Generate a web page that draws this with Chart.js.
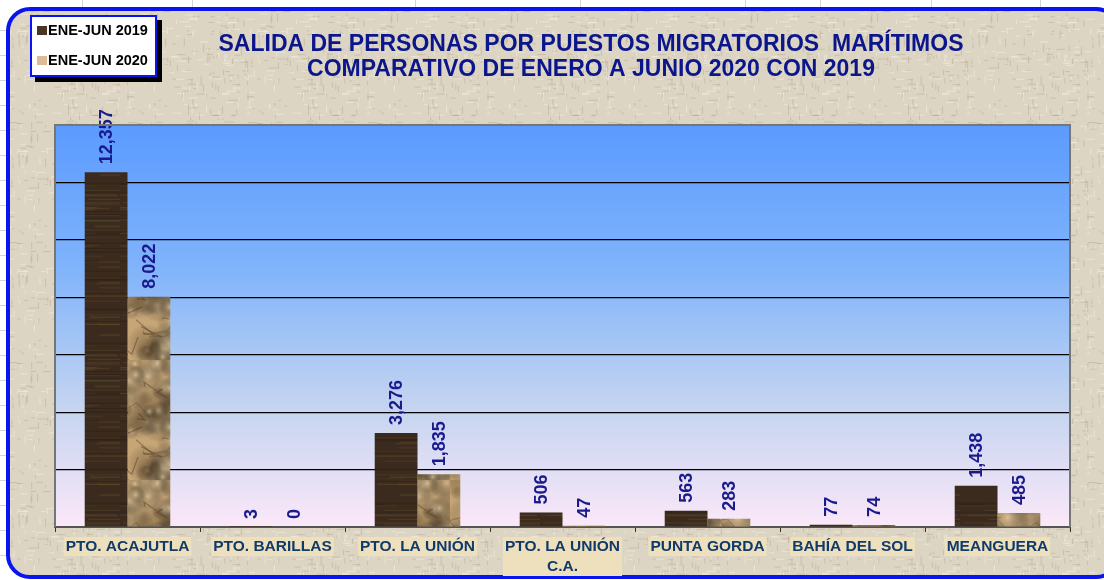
<!DOCTYPE html>
<html>
<head>
<meta charset="utf-8">
<script src="https://cdn.jsdelivr.net/npm/chart.js@4.4.1/dist/chart.umd.min.js"></script>
<style>
  html, body { margin: 0; padding: 0; background: #fff; }
  canvas { display: block; }
</style>
</head>
<body>
<canvas id="chart-canvas" width="1104" height="580"></canvas>
<script>
// datos de la gráfica
var puestos = ['PTO. ACAJUTLA', 'PTO. BARILLAS', 'PTO. LA UNIÓN', ['PTO. LA UNIÓN', 'C.A.'], 'PUNTA GORDA', 'BAHÍA DEL SOL', 'MEANGUERA'];
var series = ['ENE-JUN 2019', 'ENE-JUN 2020'];
var valores2019 = [12357, 3, 3276, 506, 563, 77, 1438];
var valores2020 = [8022, 0, 1835, 47, 283, 74, 485];
var titulo = ['SALIDA DE PERSONAS POR PUESTOS MIGRATORIOS  MARÍTIMOS', 'COMPARATIVO DE ENERO A JUNIO 2020 CON 2019'];

var FONT = '"Liberation Sans", Arial, sans-serif';

// generador pseudo-aleatorio fijo, solo para las texturas
function seeded(seed) {
    return function() {
        seed = (seed * 16807) % 2147483647;
        return (seed - 1) / 2147483646;
    };
}

// textura de madera (barras oscuras)
function woodPattern(ctx) {
    var c = document.createElement('canvas');
    c.width = 60; c.height = 160;
    var g = c.getContext('2d');
    var rnd = seeded(42);
    g.fillStyle = '#3b2b1e';
    g.fillRect(0, 0, c.width, c.height);
    for (var i = 0; i < 45; i++) {
        var y = rnd() * c.height;
        var l = 30 + rnd() * 60;
        g.fillStyle = 'rgba(' + (85 + rnd() * 40 | 0) + ',' + (65 + rnd() * 30 | 0) + ',' + (40 + rnd() * 20 | 0) + ',' + (0.15 + rnd() * 0.25) + ')';
        g.fillRect(rnd() * c.width - 20, y, l, 1 + rnd());
    }
    for (var j = 0; j < 20; j++) {
        g.fillStyle = 'rgba(25,15,8,0.25)';
        g.fillRect(0, rnd() * c.height, c.width, 1);
    }
    return ctx.createPattern(c, 'repeat');
}

// textura de papel arrugado (barras claras)
function paperPattern(ctx) {
    var c = document.createElement('canvas');
    c.width = 90; c.height = 120;
    var g = c.getContext('2d');
    var rnd = seeded(7);
    g.fillStyle = '#c6a576';
    g.fillRect(0, 0, c.width, c.height);
    for (var i = 0; i < 60; i++) {
        var x = rnd() * c.width, y = rnd() * c.height;
        var r = 6 + rnd() * 16;
        var gr = g.createRadialGradient(x, y, 0, x, y, r);
        var light = rnd() > 0.45;
        gr.addColorStop(0, light ? 'rgba(238,214,170,0.55)' : 'rgba(110,80,45,0.4)');
        gr.addColorStop(1, 'rgba(0,0,0,0)');
        g.fillStyle = gr;
        g.fillRect(x - r, y - r, r * 2, r * 2);
    }
    g.lineWidth = 1.2;
    for (var k = 0; k < 18; k++) {
        var sx = rnd() * c.width, sy = rnd() * c.height;
        g.strokeStyle = 'rgba(85,60,32,' + (0.25 + rnd() * 0.35) + ')';
        g.beginPath();
        g.moveTo(sx, sy);
        g.lineTo(sx + (rnd() - 0.3) * 25, sy + (rnd() - 0.5) * 18);
        g.lineTo(sx + (rnd() - 0.3) * 35, sy + (rnd() - 0.5) * 30);
        g.stroke();
    }
    return ctx.createPattern(c, 'repeat');
}

// textura de lino para el fondo
function linenPattern(ctx) {
    var c = document.createElement('canvas');
    c.width = 120; c.height = 120;
    var g = c.getContext('2d');
    var rnd = seeded(99);
    g.fillStyle = '#ddd5c3';
    g.fillRect(0, 0, c.width, c.height);
    for (var i = 0; i < 260; i++) {
        g.fillStyle = rnd() > 0.5 ? 'rgba(250,246,236,0.5)' : 'rgba(165,150,125,0.35)';
        if (rnd() > 0.5) g.fillRect(rnd() * c.width, rnd() * c.height, 1, 2 + rnd() * 8);
        else g.fillRect(rnd() * c.width, rnd() * c.height, 2 + rnd() * 8, 1);
    }
    return ctx.createPattern(c, 'repeat');
}

function roundRect(ctx, x, y, w, h, r) {
    ctx.beginPath();
    ctx.moveTo(x + r, y);
    ctx.lineTo(x + w - r, y);
    ctx.arcTo(x + w, y, x + w, y + r, r);
    ctx.lineTo(x + w, y + h - r);
    ctx.arcTo(x + w, y + h, x + w - r, y + h, r);
    ctx.lineTo(x + r, y + h);
    ctx.arcTo(x, y + h, x, y + h - r, r);
    ctx.lineTo(x, y + r);
    ctx.arcTo(x, y, x + r, y, r);
    ctx.closePath();
}

var canvas = document.getElementById('chart-canvas');
var ctx0 = canvas.getContext('2d');
var colores = [woodPattern(ctx0), paperPattern(ctx0)];
var swatches = ['#4a3626', '#dcbc96'];
var linen = linenPattern(ctx0);

var fondoPlugin = {
    id: 'fondo',
    beforeDraw: function(chart) {
        var ctx = chart.ctx, a = chart.chartArea;
        ctx.save();
        // hoja de cálculo detrás
        ctx.fillStyle = '#fff';
        ctx.fillRect(0, 0, chart.width, chart.height);
        ctx.strokeStyle = '#d4d4d4';
        ctx.lineWidth = 1;
        [82, 192, 415, 580, 745, 820, 931, 1040].forEach(function(x) {
            ctx.beginPath(); ctx.moveTo(x + 0.5, 0); ctx.lineTo(x + 0.5, 12); ctx.stroke();
        });
        for (var y = 30; y < chart.height; y += 25) {
            ctx.beginPath(); ctx.moveTo(0, y + 0.5); ctx.lineTo(8, y + 0.5); ctx.stroke();
        }
        // marco
        roundRect(ctx, 8, 9, 1110, 568, 22);
        ctx.fillStyle = linen;
        ctx.fill();
        ctx.lineWidth = 4;
        ctx.strokeStyle = '#0a14f0';
        ctx.stroke();
        // área de trazado
        var gr = ctx.createLinearGradient(0, a.top, 0, a.bottom);
        gr.addColorStop(0, '#5b9bff');
        gr.addColorStop(0.35, '#7fb3fb');
        gr.addColorStop(0.7, '#c4d4f0');
        gr.addColorStop(1, '#fbe8f8');
        ctx.fillStyle = gr;
        ctx.fillRect(a.left, a.top, a.right - a.left, a.bottom - a.top);
        ctx.restore();
    },
    afterDraw: function(chart) {
        var ctx = chart.ctx, a = chart.chartArea;
        ctx.save();
        // borde gris del área
        ctx.strokeStyle = '#767676';
        ctx.lineWidth = 2;
        ctx.beginPath();
        ctx.moveTo(a.left, a.bottom);
        ctx.lineTo(a.left, a.top);
        ctx.lineTo(a.right, a.top);
        ctx.lineTo(a.right, a.bottom);
        ctx.stroke();

        // etiquetas de categoría con fondo
        var xs = chart.scales.x;
        ctx.font = 'bold 15.5px ' + FONT;
        ctx.textAlign = 'center';
        ctx.textBaseline = 'middle';
        chart.data.labels.forEach(function(lab, i) {
            var lines = Array.isArray(lab) ? lab : [lab];
            var w = Math.max.apply(null, lines.map(function(t) { return ctx.measureText(t).width; }));
            var x = xs.getPixelForValue(i);
            ctx.fillStyle = '#eee0bd';
            ctx.fillRect(x - w / 2 - 2, 537, w + 4, lines.length * 20 - 1);
            ctx.fillStyle = '#0f3a6c';
            lines.forEach(function(t, k) { ctx.fillText(t, x, 547 + k * 20); });
        });

        // título
        ctx.fillStyle = '#0c168c';
        ctx.font = 'bold 23px ' + FONT;
        ctx.fillText(titulo[0], 591, 45);
        ctx.fillText(titulo[1], 591, 70);
        // leyenda
        ctx.fillStyle = '#000';
        ctx.fillRect(35, 20, 127, 62);
        ctx.fillStyle = '#fff';
        ctx.fillRect(30, 15, 127, 62);
        ctx.strokeStyle = '#0a14f0';
        ctx.lineWidth = 2;
        ctx.strokeRect(31, 16, 125, 60);
        ctx.textAlign = 'left';
        ctx.font = 'bold 14.5px ' + FONT;
        series.forEach(function(s, i) {
            var y = 30 + i * 30;
            ctx.fillStyle = swatches[i];
            ctx.fillRect(37, y - 4, 10, 9);
            ctx.fillStyle = '#000';
            ctx.fillText(s, 48, y + 1);
        });
        ctx.restore();
    },
    afterDatasetsDraw: function(chart) {
        var ctx = chart.ctx;
        ctx.save();
        ctx.fillStyle = '#1a1a8e';
        ctx.font = 'bold 18px ' + FONT;
        ctx.textBaseline = 'middle';
        ctx.textAlign = 'left';
        chart.data.datasets.forEach(function(ds, i) {
            chart.getDatasetMeta(i).data.forEach(function(bar, j) {
                ctx.save();
                ctx.translate(bar.x + 1, bar.y - 8);
                ctx.rotate(-Math.PI / 2);
                ctx.fillText(ds.data[j].toLocaleString('en-US'), 0, 0);
                ctx.restore();
            });
        });
        ctx.restore();
    }
};

new Chart(canvas, {
    type: 'bar',
    data: {
        labels: puestos,
        datasets: [
            { label: series[0], data: valores2019, backgroundColor: colores[0], borderWidth: 0 },
            { label: series[1], data: valores2020, backgroundColor: colores[1], borderWidth: 0 }
        ]
    },
    options: {
        responsive: false,
        animation: false,
        layout: { padding: { left: 55, right: 34, top: 125, bottom: 0 } },
        categoryPercentage: 0.59,
        barPercentage: 1.0,
        plugins: {
            legend: { display: false },
            title: { display: false },
            tooltip: { enabled: false }
        },
        scales: {
            x: {
                grid: { drawOnChartArea: false, drawTicks: true, tickLength: 5, color: '#333', offset: true },
                border: { color: '#555', width: 2 },
                ticks: { display: false },
                afterFit: function(scale) { scale.height = 53; }
            },
            y: {
                min: 0,
                max: 14000,
                ticks: { stepSize: 2000, display: false },
                grid: { color: '#000', lineWidth: 1.2, drawTicks: false },
                border: { display: false },
                afterFit: function(scale) { scale.width = 0; }
            }
        }
    },
    plugins: [fondoPlugin]
});
</script>
</body>
</html>
